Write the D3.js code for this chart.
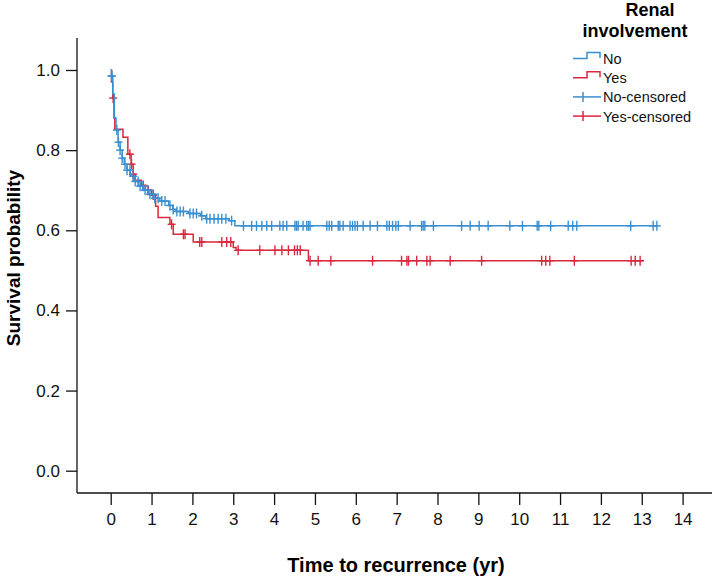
<!DOCTYPE html>
<html>
<head>
<meta charset="utf-8">
<script src="https://cdn.jsdelivr.net/npm/d3@7"></script>
<style>
  body { margin: 0; background: #fff; }
  text { font-family: "Liberation Sans", Arial, sans-serif; }
</style>
</head>
<body>
<script>
// Kaplan-Meier steps: [time (yr), survival after the event]
var noSteps = [[0,1],[0.02,0.985],[0.05,0.94],[0.09,0.88],[0.13,0.85],[0.18,0.82],[0.23,0.80],
  [0.28,0.78],[0.33,0.765],[0.4,0.75],[0.48,0.735],[0.58,0.722],[0.68,0.71],[0.8,0.70],
  [0.92,0.69],[1.05,0.68],[1.2,0.673],[1.42,0.662],[1.52,0.652],[1.6,0.647],[1.9,0.642],
  [2.2,0.636],[2.33,0.629],[2.9,0.624],[3.04,0.611]];
var noEnd = 13.37;
var noCensored = [0.02,0.03,0.15,0.19,0.23,0.28,0.35,0.4,0.47,0.55,0.6,0.67,0.72,0.79,0.84,0.91,
  0.96,1.04,1.08,1.16,1.25,1.33,1.45,1.53,1.62,1.7,1.78,1.94,2.02,2.1,2.23,2.35,2.43,2.53,2.63,
  2.72,2.82,2.96,3.25,3.45,3.57,3.7,3.82,3.94,4.14,4.22,4.31,4.51,4.55,4.59,4.71,4.8,4.84,4.88,
  5.29,5.35,5.41,5.57,5.61,5.69,5.86,5.92,5.98,6.04,6.18,6.35,6.53,6.76,6.82,6.9,6.98,7.04,
  7.33,7.61,7.65,7.69,7.9,8.59,8.8,9.02,9.24,9.77,10.08,10.44,10.48,10.77,11.2,11.31,11.41,
  12.73,13.28,13.37];

var yesSteps = [[0,1],[0.02,0.97],[0.05,0.93],[0.08,0.88],[0.1,0.852],[0.3,0.832],[0.42,0.79],
  [0.5,0.765],[0.55,0.74],[0.6,0.725],[0.75,0.712],[0.85,0.70],[1.0,0.688],[1.1,0.66],
  [1.16,0.632],[1.45,0.615],[1.53,0.59],[2.02,0.571],[3.0,0.557],[3.07,0.55],[4.84,0.524]];
var yesEnd = 13.04;
var yesCensored = [0.06,0.47,0.51,0.55,0.8,0.92,1.04,1.49,1.78,1.82,2.18,2.23,2.72,2.84,2.94,
  3.12,3.65,4.02,4.19,4.35,4.5,4.57,4.64,4.88,5.08,5.39,6.41,7.12,7.25,7.29,7.49,7.74,7.82,
  8.31,9.08,10.55,10.65,10.75,11.35,12.74,12.84,12.96];

var xTicks = d3.range(0, 15);
var yTicks = [0, 0.2, 0.4, 0.6, 0.8, 1.0];
var groups = ["No", "Yes"];
var legendLabels = ["No", "Yes", "No-censored", "Yes-censored"];
var colors = {No: "#3a8fd0", Yes: "#d9283f"};

var w = 717, h = 576;
var svg = d3.select("body").append("svg").attr("width", w).attr("height", h);

var x = d3.scaleLinear().domain([0, 14]).range([110.7, 682.6]);
var y = d3.scaleLinear().domain([0, 1]).range([470.7, 70]);

// axes
var xAxis = svg.append("g").attr("transform", "translate(0,493)")
  .call(d3.axisBottom(x).tickValues(xTicks).tickSize(12).tickPadding(8).tickFormat(d3.format("d")));
xAxis.select(".domain").remove();
xAxis.selectAll("line").attr("stroke", "#111").attr("stroke-width", 1.3);
xAxis.selectAll("text").attr("font-size", 17).attr("fill", "#111");
svg.append("line").attr("x1", 77).attr("x2", 712).attr("y1", 493).attr("y2", 493)
  .attr("stroke", "#111").attr("stroke-width", 1.3);

var yAxis = svg.append("g").attr("transform", "translate(77,0)")
  .call(d3.axisLeft(y).tickValues(yTicks).tickSize(11).tickPadding(6).tickFormat(d3.format(".1f")));
yAxis.select(".domain").remove();
yAxis.selectAll("line").attr("stroke", "#111").attr("stroke-width", 1.3);
yAxis.selectAll("text").attr("font-size", 17).attr("fill", "#111");
svg.append("line").attr("x1", 77).attr("x2", 77).attr("y1", 38).attr("y2", 493)
  .attr("stroke", "#111").attr("stroke-width", 1.3);

svg.append("text").attr("x", 396).attr("y", 572).attr("text-anchor", "middle")
  .attr("font-size", 20).attr("font-weight", "bold").text("Time to recurrence (yr)");
svg.append("text").attr("transform", "translate(20,258) rotate(-90)").attr("text-anchor", "middle")
  .attr("font-size", 19).attr("font-weight", "bold").text("Survival probability");

// curves
function survAt(steps, t) {
  var s = 1;
  for (var i = 0; i < steps.length; i++) {
    if (steps[i][0] <= t) s = steps[i][1];
  }
  return s;
}

var line = d3.line().x(function(d){ return x(d[0]); }).y(function(d){ return y(d[1]); })
  .curve(d3.curveStepAfter);

var series = {
  No: {steps: noSteps, end: noEnd, cens: noCensored},
  Yes: {steps: yesSteps, end: yesEnd, cens: yesCensored}
};

["Yes", "No"].forEach(function(g) {
  var d = series[g];
  var pts = d.steps.concat([[d.end, d.steps[d.steps.length - 1][1]]]);
  svg.append("path").datum(pts).attr("d", line).attr("fill", "none")
    .attr("stroke", colors[g]).attr("stroke-width", 1.5);
  var marks = svg.append("g").attr("stroke", colors[g]).attr("stroke-width", 1.4);
  d.cens.forEach(function(t) {
    var cx = x(t), cy = y(survAt(d.steps, t));
    marks.append("line").attr("x1", cx).attr("x2", cx).attr("y1", cy - 5).attr("y2", cy + 5);
    marks.append("line").attr("x1", cx - 4).attr("x2", cx + 4).attr("y1", cy).attr("y2", cy);
  });
});

// legend
var lg = svg.append("g");
lg.append("text").attr("x", 650).attr("y", 16).attr("text-anchor", "middle")
  .attr("font-size", 18).attr("font-weight", "bold").text("Renal");
lg.append("text").attr("x", 635).attr("y", 37).attr("text-anchor", "middle")
  .attr("font-size", 18).attr("font-weight", "bold").text("involvement");

legendLabels.forEach(function(lab, i) {
  var cy = 58.5 + i * 19.2;
  var col = i % 2 === 0 ? colors.No : colors.Yes;
  if (i < 2) {
    lg.append("path").attr("d", "M573," + cy + "H587V" + (cy - 6) + "H600V" + (cy - 0.5))
      .attr("fill", "none").attr("stroke", col).attr("stroke-width", 1.5);
  } else {
    lg.append("line").attr("x1", 573).attr("x2", 601).attr("y1", cy).attr("y2", cy)
      .attr("stroke", col).attr("stroke-width", 1.5);
    lg.append("line").attr("x1", 583).attr("x2", 583).attr("y1", cy - 5).attr("y2", cy + 5)
      .attr("stroke", col).attr("stroke-width", 1.5);
  }
  lg.append("text").attr("x", 603).attr("y", cy + 5.5).attr("font-size", 14.5)
    .attr("fill", "#111").text(lab);
});
</script>
</body>
</html>
